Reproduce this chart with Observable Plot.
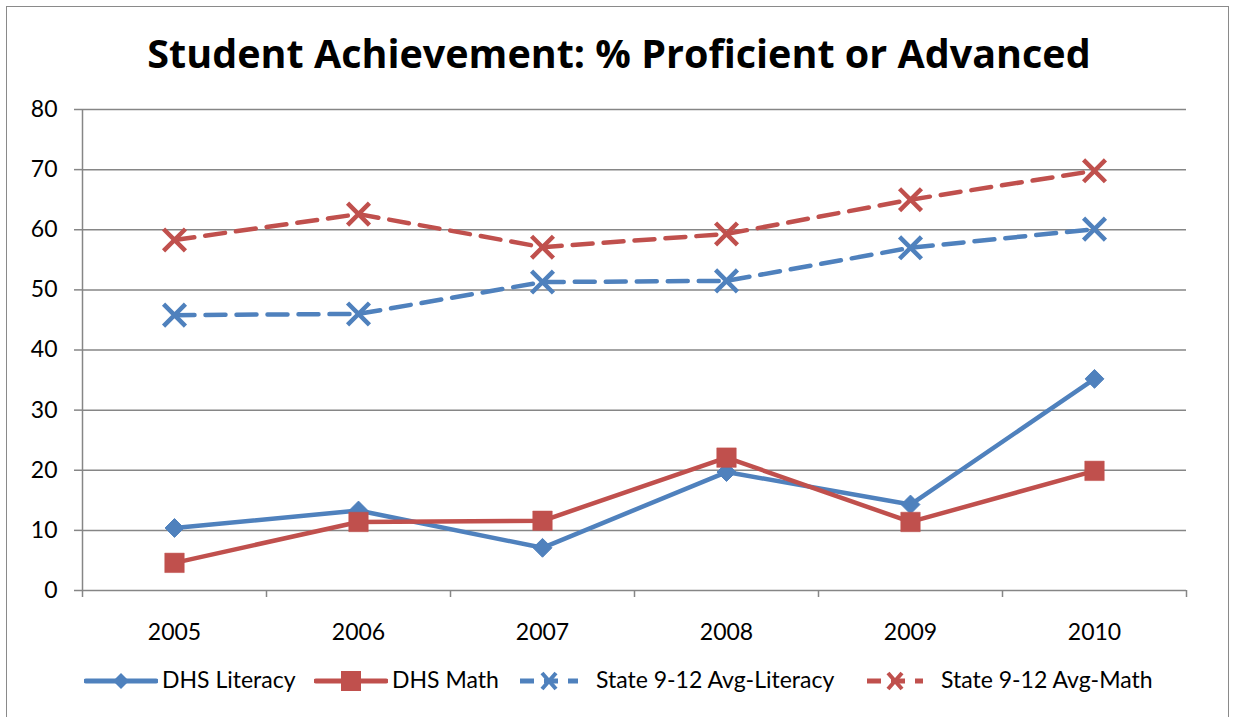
<!DOCTYPE html>
<html>
<head>
<meta charset="utf-8">
<script src="https://cdn.jsdelivr.net/npm/d3@7"></script>
<script src="https://cdn.jsdelivr.net/npm/@observablehq/plot@0.6"></script>
<style>
  html, body { margin: 0; padding: 0; background: #fff; }
  body { width: 1233px; height: 717px; position: relative; overflow: hidden; font-family: Lato, "Open Sans", sans-serif; }
  #frame { position: absolute; left: 6px; top: 6px; width: 1223px; height: 720px; border: 1.5px solid #8a8a8a; box-sizing: border-box; }
  #title { position: absolute; left: 0; top: 34px; width: 1238px; text-align: center; font-family: "Open Sans", Lato, sans-serif; font-size: 39.5px; line-height: 1; font-weight: 700; color: #000; white-space: nowrap; }
  #chart { position: absolute; left: 0; top: 90px; }
  .leg { position: absolute; top: 668px; height: 30px; font-size: 23px; line-height: 1; white-space: nowrap; color: #000; }
  .sw { position: absolute; top: 670px; }
</style>
</head>
<body>
<div id="frame"></div>
<div id="title">Student Achievement: % Proficient or Advanced</div>
<div id="chart"></div>
<div id="legend"></div>
<script>
// ---- data ----
const years = [2005, 2006, 2007, 2008, 2009, 2010];
const dhsLiteracy = [10.4, 13.3, 7.1, 19.7, 14.3, 35.2];
const dhsMath = [4.6, 11.4, 11.6, 22.1, 11.4, 19.9];
const stateLiteracy = [45.8, 46.0, 51.3, 51.5, 57.0, 60.1];
const stateMath = [58.3, 62.6, 57.1, 59.3, 65.0, 69.8];
const seriesNames = ["DHS Literacy", "DHS Math", "State 9-12 Avg-Literacy", "State 9-12 Avg-Math"];
const yTicks = [0, 10, 20, 30, 40, 50, 60, 70, 80];
const xBoundaries = [2004.5, 2005.5, 2006.5, 2007.5, 2008.5, 2009.5, 2010.5];

const BLUE = "#4F81BD";
const RED = "#C0504D";
const GRID = "#868686";

const rows = (vals) => years.map((year, i) => ({year, value: vals[i]}));
const sLit = rows(dhsLiteracy), sMath = rows(dhsMath), stLit = rows(stateLiteracy), stMath = rows(stateMath);

const plot = Plot.plot({
  width: 1233,
  height: 560,
  marginTop: 19,
  marginBottom: 60,
  marginLeft: 82,
  marginRight: 47,
  style: {fontFamily: "Lato, 'Open Sans', sans-serif", fontSize: "23px", color: "#000", background: "transparent"},
  x: {type: "linear", domain: [2004.5, 2010.5], axis: null},
  y: {domain: [0, 80], axis: null},
  marks: [
    Plot.gridY(yTicks, {stroke: GRID, strokeOpacity: 1, strokeWidth: 1.5}),
    Plot.axisY({ticks: yTicks, tickSize: 8, tickPadding: 17, stroke: GRID, strokeOpacity: 1, strokeWidth: 1.5, fontSize: 23, fill: "#000", label: null}),
    Plot.ruleX([2004.5], {stroke: GRID, strokeWidth: 1.5}),
    Plot.axisX({ticks: xBoundaries, tickSize: 7, tickFormat: () => "", stroke: GRID, strokeOpacity: 1, strokeWidth: 1.5, label: null}),
    Plot.axisX({ticks: years, tickSize: 0, tickPadding: 33, tickFormat: d => String(d), fontSize: 23, fill: "#000", label: null}),
    // DHS Literacy
    Plot.line(sLit, {x: "year", y: "value", stroke: BLUE, strokeWidth: 4.5}),
    Plot.dot(sLit, {x: "year", y: "value", symbol: "diamond2", r: 8.5, fill: BLUE, stroke: BLUE, strokeWidth: 1}),
    // DHS Math
    Plot.line(sMath, {x: "year", y: "value", stroke: RED, strokeWidth: 4.5}),
    Plot.dot(sMath, {x: "year", y: "value", symbol: "square", r: 11, fill: RED, stroke: RED, strokeWidth: 0.5}),
    // State Literacy
    Plot.line(stLit, {x: "year", y: "value", stroke: BLUE, strokeWidth: 4.5, strokeDasharray: "20,11"}),
    Plot.dot(stLit, {x: "year", y: "value", symbol: "times", r: 10, fill: "none", stroke: BLUE, strokeWidth: 4.5}),
    // State Math
    Plot.line(stMath, {x: "year", y: "value", stroke: RED, strokeWidth: 4.5, strokeDasharray: "20,11"}),
    Plot.dot(stMath, {x: "year", y: "value", symbol: "times", r: 10, fill: "none", stroke: RED, strokeWidth: 4.5})
  ]
});
document.getElementById("chart").appendChild(plot);

// ---- legend ----
const legendItems = [
  {name: seriesNames[0], color: BLUE, dash: null, symbol: "diamond", swLeft: 84, swWidth: 74, textLeft: 162},
  {name: seriesNames[1], color: RED, dash: null, symbol: "square", swLeft: 314, swWidth: 74, textLeft: 392},
  {name: seriesNames[2], color: BLUE, dash: "16,9", symbol: "times", swLeft: 518, swWidth: 62, textLeft: 596},
  {name: seriesNames[3], color: RED, dash: "16,9", symbol: "times", swLeft: 865, swWidth: 60, textLeft: 941}
];
const legend = d3.select("#legend");
for (const it of legendItems) {
  const svg = legend.append("svg").attr("class", "sw")
    .style("left", it.swLeft + "px").attr("width", it.swWidth).attr("height", 22);
  const cx = it.swWidth / 2, cy = 11;
  svg.append("line").attr("x1", 2).attr("x2", it.swWidth - 2).attr("y1", cy).attr("y2", cy)
    .attr("stroke", it.color).attr("stroke-width", 5).attr("stroke-linecap", it.dash ? "butt" : "round")
    .attr("stroke-dasharray", it.dash ? "14,10" : null);
  if (it.symbol === "diamond") {
    svg.append("path").attr("d", `M${cx},${cy - 8}L${cx + 8},${cy}L${cx},${cy + 8}L${cx - 8},${cy}Z`).attr("fill", it.color);
  } else if (it.symbol === "square") {
    svg.append("rect").attr("x", cx - 10).attr("y", cy - 10).attr("width", 20).attr("height", 20).attr("fill", it.color);
  } else {
    svg.append("path").attr("d", `M${cx - 7},${cy - 8}L${cx + 7},${cy + 8}M${cx + 7},${cy - 8}L${cx - 7},${cy + 8}`)
      .attr("stroke", it.color).attr("stroke-width", 4).attr("fill", "none");
  }
  legend.append("div").attr("class", "leg").style("left", it.textLeft + "px").text(it.name);
}
</script>
</body>
</html>
